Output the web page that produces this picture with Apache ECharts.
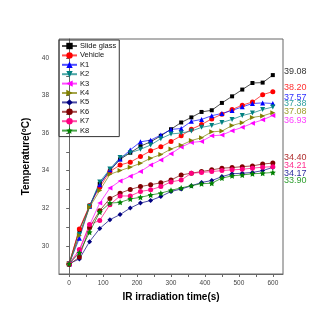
<!DOCTYPE html>
<html>
<head>
<meta charset="utf-8">
<script src="https://cdn.jsdelivr.net/npm/echarts@6/dist/echarts.min.js"></script>
<style>
html, body { margin: 0; padding: 0; background: #fff; }
#main { width: 332px; height: 332px; }
</style>
</head>
<body>
<div id="main"></div>
<script>
// irradiation time (s)
var times = [0, 30, 60, 90, 120, 150, 180, 210, 240, 270, 300, 330, 360, 390, 420, 450, 480, 510, 540, 570, 600];

// temperature (oC)
var slideGlass = [29.05, 30.85, 32.10, 33.30, 34.00, 34.60, 34.95, 35.30, 35.53, 35.85, 36.20, 36.56, 36.83, 37.12, 37.21, 37.60, 37.95, 38.31, 38.66, 38.68, 39.08];
var vehicle    = [29.05, 30.90, 32.15, 33.12, 33.95, 34.30, 34.45, 34.75, 35.05, 35.27, 35.55, 35.85, 36.20, 36.45, 36.75, 37.00, 37.25, 37.48, 37.65, 38.04, 38.20];
var k1         = [29.05, 30.40, 32.10, 33.25, 34.05, 34.62, 35.10, 35.53, 35.62, 35.89, 36.19, 36.24, 36.62, 36.72, 36.92, 37.04, 37.20, 37.39, 37.57, 37.60, 37.57];
var k2         = [29.05, 30.60, 32.10, 33.40, 34.08, 34.70, 34.95, 35.13, 35.36, 35.70, 35.95, 36.00, 36.10, 36.30, 36.40, 36.56, 36.72, 36.93, 37.06, 37.25, 37.38];
var k3         = [29.00, 29.70, 31.10, 32.27, 33.07, 33.45, 33.70, 33.95, 34.30, 34.57, 34.90, 35.25, 35.50, 35.55, 35.85, 35.89, 36.12, 36.30, 36.52, 36.70, 36.93];
var k4         = [29.05, 30.55, 32.05, 32.94, 33.80, 34.00, 34.18, 34.39, 34.66, 34.85, 35.15, 35.35, 35.60, 35.75, 36.06, 36.10, 36.40, 36.55, 36.83, 36.91, 37.08];
var k5         = [29.05, 29.30, 30.22, 30.92, 31.39, 31.66, 32.01, 32.27, 32.41, 32.62, 32.89, 33.02, 33.19, 33.37, 33.47, 33.68, 33.83, 33.86, 33.90, 34.00, 34.17];
var k6         = [29.00, 29.40, 30.98, 31.87, 32.52, 32.80, 33.00, 33.15, 33.25, 33.35, 33.50, 33.77, 33.86, 33.95, 34.04, 34.13, 34.16, 34.21, 34.25, 34.35, 34.40];
var k7         = [29.05, 29.80, 31.13, 31.35, 32.19, 32.65, 32.65, 32.89, 32.98, 33.15, 33.40, 33.50, 33.86, 33.90, 33.95, 34.00, 34.04, 34.07, 34.13, 34.18, 34.21];
var k8         = [29.05, 29.63, 30.72, 31.80, 32.27, 32.31, 32.49, 32.58, 32.70, 32.80, 32.95, 33.08, 33.20, 33.30, 33.33, 33.60, 33.72, 33.77, 33.83, 33.86, 33.90];

var names = ['Slide glass', 'Vehicle', 'K1', 'K2', 'K3', 'K4', 'K5', 'K6', 'K7', 'K8'];
var values = [slideGlass, vehicle, k1, k2, k3, k4, k5, k6, k7, k8];

// axis ticks / labels
var xLabels = [0, 100, 200, 300, 400, 500, 600];
var xTicks = [0, 50, 100, 150, 200, 250, 300, 350, 400, 450, 500, 550, 600];
var yLabels = [30, 32, 34, 36, 38, 40];
var yTicks = [29, 30, 31, 32, 33, 34, 35, 36, 37, 38, 39, 40];

var colors = ['#000000', '#ff0000', '#0000ff', '#008080', '#ff00ff', '#808000', '#000080', '#800000', '#ff0080', '#008000'];
var labelColors = ['#333333', '#ff3030', '#3030ff', '#30a0a0', '#ff40ff', '#a0a030', '#3030a0', '#b03030', '#ff3090', '#30a030'];
var starPath = 'path://M0,-10L2.9,-4L9.5,-3.1L4.8,1.5L5.9,8.1L0,5L-5.9,8.1L-4.8,1.5L-9.5,-3.1L-2.9,-4Z';
var symbols = ['rect', 'circle', 'triangle', 'triangle', 'triangle', 'triangle', 'diamond', 'circle', 'circle', starPath];
var rotates = [0, 0, 0, 180, 90, -90, 0, 0, 0, 0];
var sizes = [4, 5, 5, 5, 5, 5, 5, 5, 5, 6];
// vertical shift (px) of the end labels so they do not overlap
var labelShift = [-3.5, -4.5, -6, -4, 4.5, -1, 6, -5.5, -1, 8.5];

var chart = echarts.init(document.getElementById('main'));

var series = [];
for (var i = 0; i < names.length; i++) {
    var pts = [];
    for (var j = 0; j < times.length; j++) {
        pts.push([times[j], values[i][j]]);
    }
    series.push({
        name: names[i],
        type: 'line',
        data: pts,
        symbol: symbols[i],
        symbolRotate: rotates[i],
        symbolSize: sizes[i],
        color: colors[i],
        lineStyle: { width: 1, opacity: 0.7 },
        emphasis: { disabled: true }
    });
}

var option = {
    animation: false,
    textStyle: { fontFamily: 'Liberation Sans' },
    grid: {
        left: 59, top: 39, right: 49, bottom: 58,
        show: true,
        borderColor: '#666',
        borderWidth: 1
    },
    legend: {
        orient: 'vertical',
        left: 59,
        top: 40,
        data: names,
        itemWidth: 15,
        itemHeight: 8,
        itemGap: 1.4,
        padding: [2, 3, 2, 2],
        borderColor: '#333',
        borderWidth: 1,
        textStyle: { fontSize: 7.5, color: '#111', lineHeight: 8, padding: [0, 0, 0, -2] }
    },
    xAxis: {
        type: 'value',
        min: -30,
        max: 630,
        name: 'IR irradiation time(s)',
        nameLocation: 'middle',
        nameGap: 16,
        nameTextStyle: { fontSize: 10, fontWeight: 'bold', color: '#000' },
        axisLine: { lineStyle: { color: '#666' } },
        axisTick: { length: 3, customValues: xTicks, lineStyle: { color: '#666' } },
        axisLabel: { customValues: xLabels, fontSize: 6.5, color: '#444', margin: 6 },
        splitLine: { show: false }
    },
    yAxis: {
        type: 'value',
        min: 28.5,
        max: 41,
        name: 'Temperature({s|o}C)',
        nameLocation: 'middle',
        nameGap: 16,
        nameTextStyle: {
            fontSize: 10, fontWeight: 'bold', color: '#000',
            rich: { s: { fontSize: 6.5, fontWeight: 'bold', verticalAlign: 'top', color: '#000' } }
        },
        axisLine: { show: true, lineStyle: { color: '#666' } },
        axisTick: { show: true, length: 3, customValues: yTicks, lineStyle: { color: '#666' } },
        axisLabel: { customValues: yLabels, fontSize: 6.5, color: '#444', margin: 10 },
        splitLine: { show: false }
    },
    series: series
};

chart.setOption(option);

// final values written beside the frame
var texts = [];
for (var k = 0; k < names.length; k++) {
    var last = values[k][values[k].length - 1];
    var p = chart.convertToPixel({ gridIndex: 0 }, [times[times.length - 1], last]);
    texts.push({
        type: 'text',
        x: 284,
        y: p[1] + labelShift[k],
        style: {
            text: last.toFixed(2),
            fill: labelColors[k],
            font: '9px "Liberation Sans"',
            verticalAlign: 'middle'
        }
    });
}
chart.setOption({ graphic: texts });
</script>
</body>
</html>
